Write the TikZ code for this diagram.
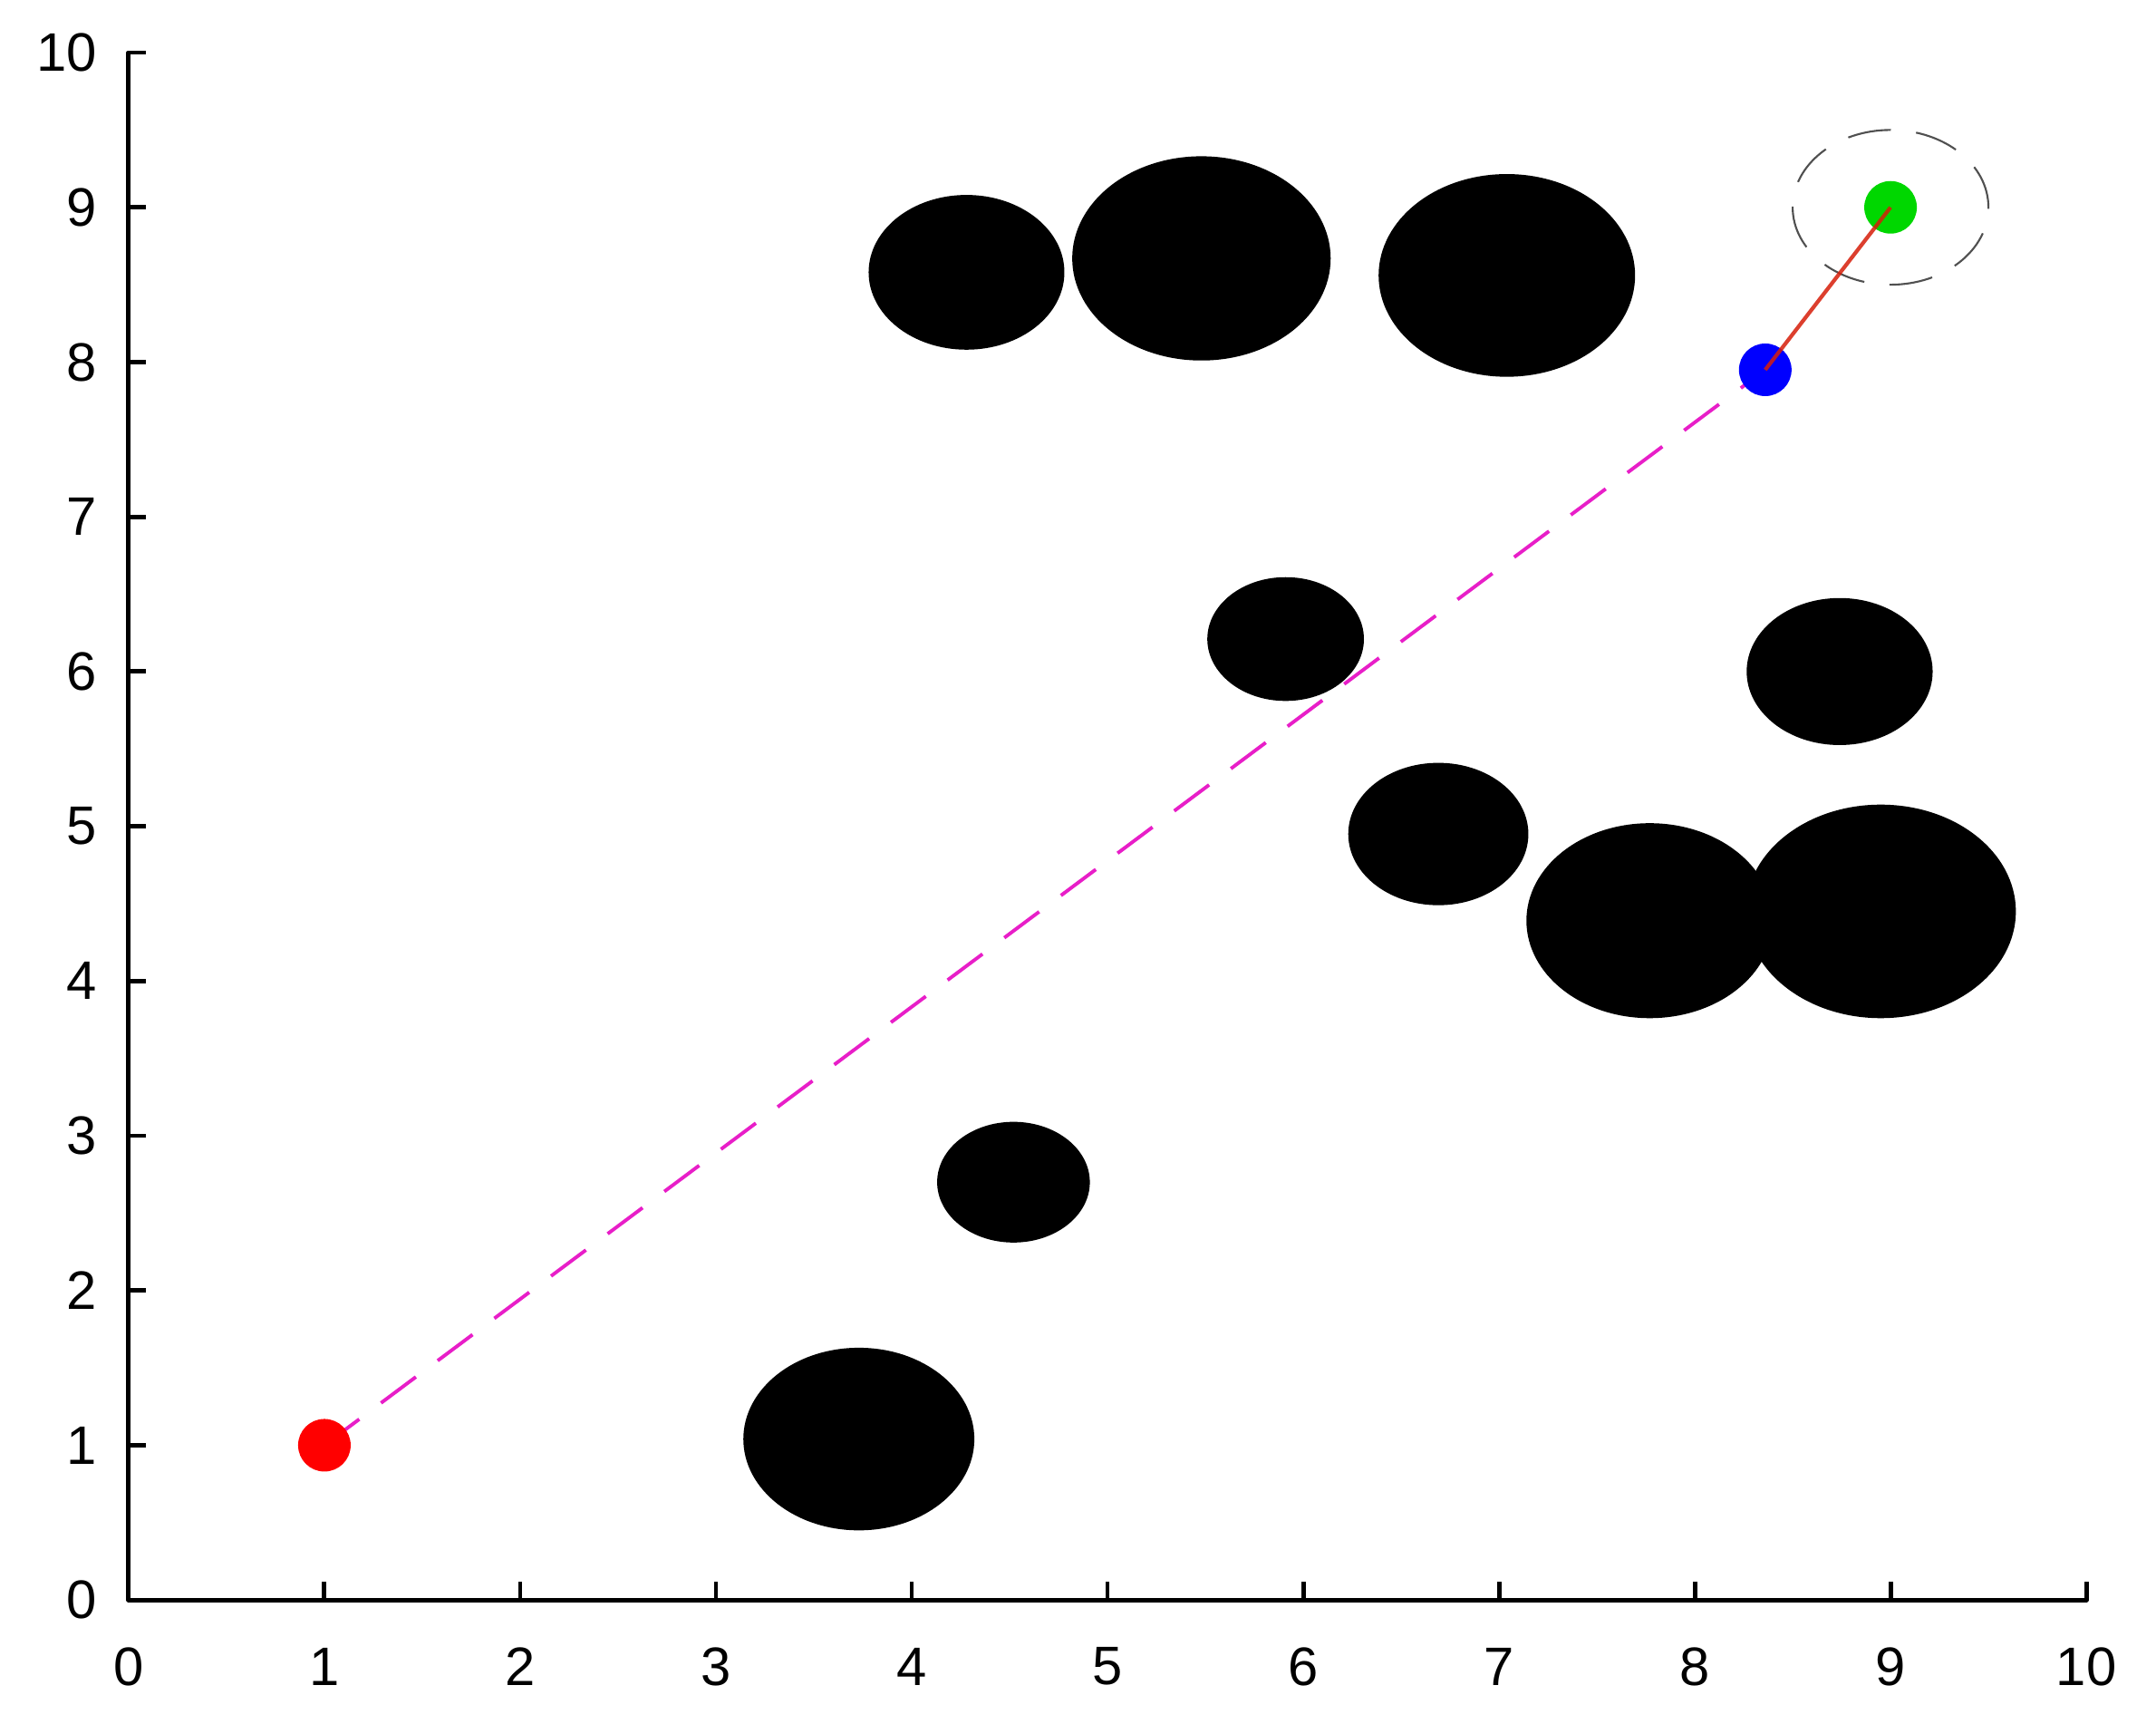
\documentclass[tikz,border=0pt]{standalone}
\usepackage{fontspec}
\setmainfont{Liberation Sans}
\definecolor{pathmag}{RGB}{232,30,200}
\definecolor{segred}{RGB}{215,30,10}
\definecolor{ptgreen}{RGB}{0,215,0}
\definecolor{ringgray}{RGB}{80,80,80}
\tikzset{
  axisline/.style={line width=1.4pt, black, line join=round},
  ticklab/.style={font=\fontsize{17}{20}\selectfont, inner sep=0pt},
  obstacle/.style={fill=black},
  marker/.style={circle, minimum size=0.58cm, inner sep=0pt, draw=none},
  plannedpath/.style={pathmag, line width=1.1pt, dash pattern=on 0.48cm off 0.3cm},
  lastseg/.style={segred, line width=1.2pt, opacity=0.85},
  goalring/.style={ringgray, line width=0.6pt, dash pattern=on 0.48cm off 0.28cm}
}
\begin{document}
\begin{tikzpicture}[x=2.16cm, y=1.707cm]
\useasboundingbox[fill=white] (-0.657,-0.797) rectangle (10.356,10.340);

% axes
\draw[axisline] ([xshift=0.19cm]0,10) -- (0,10) -- (0,0) -- (10,0) -- ([yshift=0.2cm]10,0);
\foreach \i in {1,...,9} {
  \draw[axisline] (\i,0) -- ([yshift=0.2cm]\i,0);
  \draw[axisline] (0,\i) -- ([xshift=0.19cm]0,\i);
}
\foreach \i in {0,...,10} {
  \node[ticklab] (xl\i) at (\i,-0.43) {\i};
  \node[ticklab, anchor=east] (yl\i) at (-0.16,\i) {\i};
}

% obstacles
\fill[obstacle] (4.28,8.58) circle (0.50);
\fill[obstacle] (5.48,8.67) circle (0.66);
\fill[obstacle] (7.04,8.56) circle (0.655);
\fill[obstacle] (5.91,6.21) circle (0.40);
\fill[obstacle] (8.74,6.00) circle (0.475);
\fill[obstacle] (6.69,4.95) circle (0.46);
\fill[obstacle] (7.77,4.39) circle (0.63);
\fill[obstacle] (8.95,4.45) circle (0.69);
\fill[obstacle] (4.52,2.70) circle (0.39);
\fill[obstacle] (3.73,1.04) circle (0.59);

% goal region
\draw[goalring] (9,9) circle (0.5);

% points
\coordinate (startc) at (1,1);
\coordinate (midc) at (8.36,7.95);
\draw[plannedpath] (startc) -- (midc);
\node[marker, fill=red] (start) at (startc) {};
\node[marker, fill=blue] (mid) at (midc) {};
\node[marker, fill=ptgreen] (goal) at (9,9) {};
\draw[lastseg] (mid.center) -- (goal.center);
\end{tikzpicture}
\end{document}
